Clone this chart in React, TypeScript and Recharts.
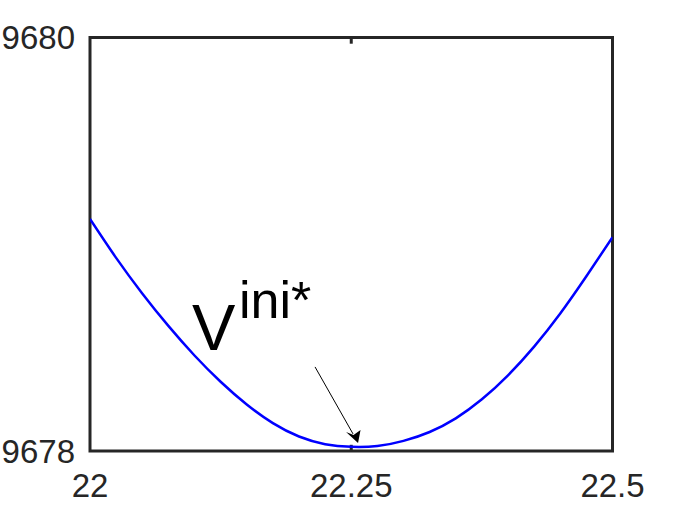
import { LineChart, Line, XAxis, YAxis, ReferenceArea, ReferenceLine, ReferenceDot } from 'recharts';

// x positions (22 → 22.5) and the value read at each one
const xs = [
  22, 22.025, 22.05, 22.075, 22.1, 22.125, 22.15, 22.175, 22.2, 22.225, 22.25,
  22.275, 22.3, 22.325, 22.35, 22.375, 22.4, 22.425, 22.45, 22.475, 22.5,
];
const values = [
  9679.122, 9678.934, 9678.762, 9678.605, 9678.462, 9678.335, 9678.225, 9678.135,
  9678.07, 9678.033, 9678.02, 9678.024, 9678.049, 9678.092, 9678.158, 9678.25,
  9678.366, 9678.505, 9678.665, 9678.845, 9679.034,
];
const xTicks = [22, 22.25, 22.5];
const yTicks = [9678, 9680];
const arrowTip = { x: 22.2565, y: 9678.039 };

const data = xs.map((x, i) => ({ x, v: values[i] }));

const AXIS = '#262626';
const FONT = '"Liberation Sans", Arial, Helvetica, sans-serif';

function Annotation({ cx, cy }: { cx?: number; cy?: number }) {
  if (cx == null || cy == null) return null;
  return (
    <g>
      <line x1={cx - 43} y1={cy - 76} x2={cx - 5} y2={cy - 9} stroke="#000" strokeWidth={1} />
      <polygon
        points={`${cx},${cy} ${cx - 12},${cy - 11} ${cx - 4.5},${cy - 8} ${cx + 2.5},${cy - 13}`}
        fill="#000"
      />
      <text x={cx - 166} y={cy - 93} fontSize={65} fontFamily={FONT} fill="#000">
        V
      </text>
      <text x={cx - 119} y={cy - 125} fontSize={52} fontFamily={FONT} fill="#000">
        ini*
      </text>
    </g>
  );
}

export default function App() {
  return (
    <div style={{ position: 'absolute', left: 0, top: 0, background: '#fff' }}>
      <LineChart
        width={677}
        height={508}
        data={data}
        margin={{ top: 37.5, right: 64.5, bottom: 0, left: 0 }}
      >
        <XAxis
          dataKey="x"
          type="number"
          domain={[22, 22.5]}
          ticks={xTicks}
          allowDataOverflow
          height={57}
          axisLine={false}
          tickLine={false}
          tickSize={0}
          tickMargin={23}
          tickFormatter={(v: number) => String(v)}
          tick={{ fill: AXIS, fontSize: 33, fontFamily: FONT }}
        />
        <YAxis
          type="number"
          domain={[9678, 9680]}
          ticks={yTicks}
          allowDataOverflow
          width={90}
          axisLine={false}
          tickLine={false}
          tickSize={0}
          tickMargin={15}
          tick={{ fill: AXIS, fontSize: 33, fontFamily: FONT }}
        />
        <ReferenceArea
          x1={22}
          x2={22.5}
          y1={9678}
          y2={9680}
          fill="none"
          fillOpacity={0}
          stroke={AXIS}
          strokeWidth={3}
        />
        <ReferenceLine
          segment={[{ x: 22.25, y: 9680 }, { x: 22.25, y: 9679.97 }]}
          stroke={AXIS}
          strokeWidth={3}
        />
        <ReferenceLine
          segment={[{ x: 22.25, y: 9678 }, { x: 22.25, y: 9678.03 }]}
          stroke={AXIS}
          strokeWidth={3}
        />
        <Line
          type="natural"
          dataKey="v"
          stroke="#0000ff"
          strokeWidth={2.5}
          dot={false}
          isAnimationActive={false}
        />
        <ReferenceDot
          x={arrowTip.x}
          y={arrowTip.y}
          r={0}
          shape={(p: any) => <Annotation cx={p.cx} cy={p.cy} />}
        />
      </LineChart>
    </div>
  );
}
